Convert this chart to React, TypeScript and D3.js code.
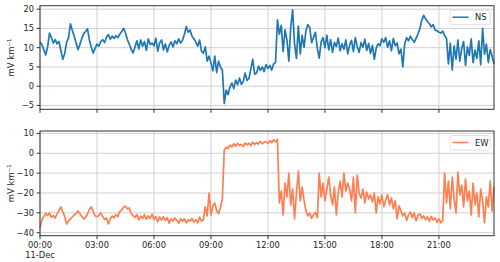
import * as d3 from "d3";

// NS and EW electric field components, 6-minute samples starting 11-Dec 00:00
const nsValues = [
  11.5, 10.8, 9.5, 8.1, 10.2, 13.8, 12.6, 11.2, 12.1, 11.0,
  11.6, 9.2, 7.0, 8.4, 11.4, 12.5, 16.2, 14.5, 13.0, 11.2,
  9.5, 10.8, 12.4, 13.6, 14.2, 14.9, 12.0, 10.1, 8.6, 9.8,
  10.9, 10.4, 11.6, 12.1, 11.3, 12.7, 13.4, 12.2, 13.0, 12.4,
  13.1, 12.6, 13.5, 14.2, 15.0, 13.8, 12.1, 10.9, 9.6, 8.6,
  10.2, 11.8, 9.7, 12.0, 10.4, 11.6, 9.3, 12.3, 10.8, 11.2,
  10.5, 12.4, 9.1, 11.3, 12.0, 9.4, 11.0, 8.9, 10.6, 11.5,
  10.2, 11.8, 11.0, 12.3, 11.2, 11.9, 13.4, 15.5, 14.0, 14.6,
  13.0, 12.3, 11.5, 10.4, 12.0, 9.1, 8.6, 10.2, 6.5, 7.8,
  6.0, 4.0, 7.8, 3.5, 6.5, 5.0, 4.2, -4.5, -1.0, -2.2,
  -0.2, 0.8, -0.6, 1.6, 0.4, 2.1, 0.5, 1.2, 3.4, 1.5,
  2.0, 4.5, 7.0, 3.1, 3.4, 5.2, 4.1, 5.0, 3.8, 5.6,
  4.6, 5.4, 4.2, 5.8, 6.2, 17.2, 13.5, 15.8, 9.0, 14.6,
  12.0, 6.5, 15.3, 19.8, 11.0, 7.2, 15.6, 8.4, 13.2, 10.1,
  14.4, 16.0, 15.2, 11.3, 12.7, 14.0, 9.8, 7.3, 11.5, 12.6,
  10.0, 13.2, 9.4, 12.1, 8.8, 11.4, 10.3, 12.5, 9.2, 11.0,
  9.6, 12.0, 8.4, 10.7, 11.9, 9.0, 12.6, 10.2, 8.8, 11.3,
  10.1, 12.2, 9.3, 11.1, 8.5, 10.6, 7.0, 9.9, 11.0, 10.5,
  12.3, 11.4, 12.6, 10.1, 11.8, 9.2, 12.4, 10.5, 11.2, 8.4,
  9.6, 5.0, 11.0, 12.6, 11.8, 13.0, 12.1, 11.4, 12.5, 13.6,
  15.0, 17.2, 18.4, 17.5, 16.8, 16.2, 15.4, 16.0, 14.6, 14.4,
  14.0, 13.8, 14.3, 13.2, 12.4, 5.8, 11.2, 4.2, 10.5, 7.0,
  12.0, 6.5, 9.8, 11.6, 5.4, 10.2, 8.0, 12.3, 6.1, 9.4,
  7.2, 11.8, 5.6, 15.0, 8.3, 10.9, 6.2, 9.5, 7.8, 5.8,
];

const ewValues = [
  -37.8, -33.5, -31.9, -30.2, -31.5, -30.0, -32.3, -31.4, -32.6, -30.5,
  -28.7, -27.0, -29.5, -31.8, -35.6, -34.2, -33.0, -32.1, -31.0, -30.3,
  -29.0, -30.5, -31.8, -33.1, -32.2, -30.6, -28.2, -27.0, -29.4, -31.6,
  -32.0, -31.3, -30.0, -31.8, -33.4, -32.6, -35.6, -33.1, -31.6, -32.5,
  -30.8, -31.9, -29.4, -28.5, -27.2, -26.6, -28.0, -27.5, -30.5, -31.4,
  -32.3, -30.8, -33.5, -31.6, -32.9, -30.9, -33.2, -31.5, -32.8, -30.7,
  -33.4, -31.8, -34.5, -32.0, -33.6, -31.9, -33.8, -32.4, -35.2, -33.0,
  -34.1, -32.6, -33.8, -35.3, -32.9, -34.4, -33.0, -35.1, -33.5, -34.2,
  -32.8, -34.6, -33.4, -35.0, -32.2, -34.1, -33.6, -27.0, -31.5, -20.0,
  -31.0, -26.5, -25.0, -28.8, -30.5, -27.2, -23.0, 1.6, 3.0, 2.4,
  4.1, 3.2, 4.8, 3.6, 5.0, 3.9, 4.5, 3.4, 5.2, 4.2,
  5.1, 3.8, 5.6, 4.4, 5.3, 4.6, 6.0, 4.8, 5.5, 5.9,
  4.9, 6.3, 5.4, 6.8, 5.8, 7.0, -25.0, -19.0, -31.0, -15.0,
  -22.0, -10.0, -26.0, -18.0, -33.0, -20.0, -9.0, -24.0, -17.0, -23.5,
  -29.0, -31.5, -30.2, -32.8, -31.0, -29.8, -32.5, -10.0, -22.0, -15.0,
  -24.0, -18.0, -12.0, -21.0, -26.0, -17.0, -31.0, -20.0, -14.0, -22.0,
  -10.0, -19.0, -15.0, -18.0, -24.0, -12.0, -30.0, -11.0, -20.0, -22.5,
  -18.0, -25.0, -19.5, -23.0, -21.0, -24.5, -20.0, -30.0, -22.0, -25.5,
  -21.0, -27.0, -23.5, -20.8, -26.0, -22.5, -28.0, -24.0, -33.0, -26.5,
  -29.0, -31.5, -30.0, -33.8, -31.0, -29.5, -32.5, -30.0, -34.0, -31.2,
  -30.5, -32.8, -31.5, -33.5, -32.0, -34.2, -31.8, -33.6, -32.5, -34.8,
  -33.0, -35.0, -33.8, -10.0, -25.0, -14.0, -28.0, -12.0, -23.0, -30.0,
  -9.5, -21.0, -16.0, -27.0, -13.0, -24.0, -19.0, -31.0, -15.0, -26.0,
  -20.0, -32.0, -18.0, -24.0, -35.0, -22.0, -27.0, -14.0, -29.0, -17.0,
];

const nsTicks = [-5, 0, 5, 10, 15, 20];
const ewTicks = [-40, -30, -20, -10, 0, 10];
const tickHours = [0, 3, 6, 9, 12, 15, 18, 21];

const START = new Date(2016, 11, 11, 0, 0);
const STEP_MIN = 6;
const times = nsValues.map((_, i) => d3.timeMinute.offset(START, i * STEP_MIN));

const W = 500;
const H = 262;
const left = 40;
const right = 494;
const FONT = "DejaVu Sans, sans-serif";

const x = d3.scaleTime().domain([times[0], times[times.length - 1]]).range([left, right]);

interface PanelProps {
  values: number[];
  ticks: number[];
  domain: [number, number];
  top: number;
  bottom: number;
  color: string;
  name: string;
}

function Panel({ values, ticks, domain, top, bottom, color, name }: PanelProps) {
  const y = d3.scaleLinear().domain(domain).range([bottom, top]);
  const line = d3
    .line<number>()
    .x((_, i) => x(times[i]))
    .y((d) => y(d));
  const mid = (top + bottom) / 2;
  const legX = right - 44;
  return (
    <g>
      {/* grid */}
      {tickHours.map((h) => {
        const t = d3.timeHour.offset(START, h);
        return (
          <line key={"v" + h} x1={x(t)} x2={x(t)} y1={top} y2={bottom} stroke="#d0d0d0" strokeWidth={1} />
        );
      })}
      {ticks.map((t) => (
        <line key={"h" + t} x1={left} x2={right} y1={y(t)} y2={y(t)} stroke="#d0d0d0" strokeWidth={1} />
      ))}
      <path d={line(values) ?? ""} fill="none" stroke={color} strokeWidth={1.7} strokeLinejoin="round" />
      {/* frame */}
      <rect x={left} y={top} width={right - left} height={bottom - top} fill="none" stroke="#333" strokeWidth={1} />
      {/* y ticks */}
      {ticks.map((t) => (
        <g key={"t" + t}>
          <line x1={left - 3.5} x2={left} y1={y(t)} y2={y(t)} stroke="#333" />
          <text x={left - 6} y={y(t) + 3} textAnchor="end" fontSize={8.3} fill="#262626" fontFamily={FONT}>
            {t < 0 ? "\u2212" + Math.abs(t) : t}
          </text>
        </g>
      ))}
      {/* x tick marks */}
      {tickHours.map((h) => {
        const t = d3.timeHour.offset(START, h);
        return <line key={"xt" + h} x1={x(t)} x2={x(t)} y1={bottom} y2={bottom + 3.5} stroke="#333" />;
      })}
      <text
        transform={`translate(14,${mid}) rotate(-90)`}
        textAnchor="middle"
        fontSize={8.5}
        fill="#262626"
        fontFamily={FONT}
      >
        mV km⁻¹
      </text>
      {/* legend */}
      <rect x={legX} y={top + 4.5} width={40} height={14.5} rx={2} fill="white" fillOpacity={0.8} stroke="#d8d8d8" strokeWidth={0.8} />
      <line x1={legX + 2.5} x2={legX + 18.5} y1={top + 11.5} y2={top + 11.5} stroke={color} strokeWidth={1.5} />
      <text x={legX + 25} y={top + 14.5} fontSize={8.3} fill="#262626" fontFamily={FONT}>
        {name}
      </text>
    </g>
  );
}

export default function App() {
  const bottom2 = 235.7;
  return (
    <svg width={W} height={H} style={{ position: "absolute", left: 0, top: 0, background: "white" }}>
      <Panel values={nsValues} ticks={nsTicks} domain={[-6, 20.9]} top={5.7} bottom={109.3} color="#1f77b4" name="NS" />
      <Panel values={ewValues} ticks={ewTicks} domain={[-41.5, 11.2]} top={131} bottom={bottom2} color="#ff7f50" name="EW" />
      {tickHours.map((h) => {
        const t = d3.timeHour.offset(START, h);
        return (
          <text key={"xl" + h} x={x(t)} y={bottom2 + 12} textAnchor="middle" fontSize={8.3} fill="#262626" fontFamily={FONT}>
            {d3.timeFormat("%H:%M")(t)}
          </text>
        );
      })}
      <text x={x(START)} y={bottom2 + 22} textAnchor="middle" fontSize={8.3} fill="#262626" fontFamily={FONT}>
        {d3.timeFormat("%d-%b")(START)}
      </text>
    </svg>
  );
}
